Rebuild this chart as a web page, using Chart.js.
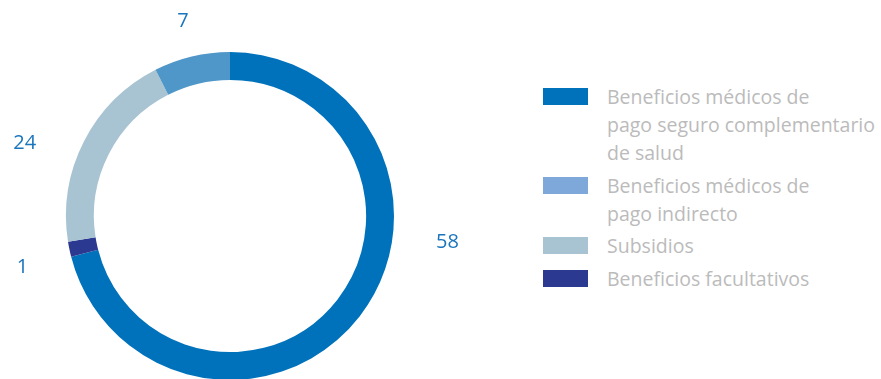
<!DOCTYPE html>
<html>
<head>
<meta charset="utf-8">
<script src="https://cdn.jsdelivr.net/npm/chart.js@4"></script>
<style>
  html, body { margin: 0; padding: 0; background: #fff; }
  body { width: 881px; height: 379px; position: relative; overflow: hidden; font-family: "Open Sans", sans-serif; }
  #wrap { position: absolute; left: 0; top: 0; width: 460px; height: 432px; }
  #legend { position: absolute; left: 543px; top: 83px; }
  .item { position: relative; padding-left: 64px; color: #bbbbbb; font-size: 19.5px; line-height: 28px; margin-bottom: 4.5px; white-space: nowrap; }
  .swatch { position: absolute; left: 0; top: 5px; width: 45px; height: 17px; }
</style>
</head>
<body>
<div id="wrap"><canvas id="dona"></canvas></div>
<div id="legend"></div>
<script>
// ==== Datos ====
// orden en el anillo (sentido horario desde arriba)
const categorias = [
  "Beneficios médicos de\npago seguro complementario\nde salud",
  "Beneficios facultativos",
  "Subsidios",
  "Beneficios médicos de\npago indirecto"
];
const etiquetas = ["58", "1", "24", "7"];       // números impresos junto al anillo
const porcion = [71, 1.5, 20, 7.5];            // tamaño de cada arco
const coloresArco = ["#0072bc", "#2b3990", "#a8c4d3", "#4f96c9"];
const coloresLeyenda = ["#0072bc", "#2b3990", "#a8c4d3", "#7ea8d9"];
const ordenLeyenda = [0, 3, 2, 1];

// posición de cada número: ángulo (grados, horario desde arriba) y distancia al centro
const posEtiqueta = [[96.8, 219], [256, 214], [289.6, 218], [346.4, 200]];

// ==== Leyenda HTML ====
const leyenda = document.getElementById('legend');
ordenLeyenda.forEach(i => {
  const d = document.createElement('div');
  d.className = 'item';
  d.innerHTML = '<span class="swatch" style="background:' + coloresLeyenda[i] + '"></span>' +
    categorias[i].split('\n').join('<br>');
  leyenda.appendChild(d);
});

// plugin para los números fuera del anillo
const numeros = {
  id: 'numeros',
  afterDatasetsDraw(chart) {
    const arc = chart.getDatasetMeta(0).data[0];
    if (!arc) return;
    const ctx = chart.ctx;
    ctx.save();
    ctx.font = '20px "Open Sans"';
    ctx.fillStyle = '#1a75bc';
    ctx.textAlign = 'center';
    ctx.textBaseline = 'middle';
    etiquetas.forEach((t, i) => {
      const a = posEtiqueta[i][0] * Math.PI / 180;
      const r = posEtiqueta[i][1];
      ctx.fillText(t, arc.x + Math.sin(a) * r, arc.y - Math.cos(a) * r);
    });
    ctx.restore();
  }
};

new Chart(document.getElementById('dona'), {
  type: 'doughnut',
  data: {
    labels: categorias,
    datasets: [{ data: porcion, backgroundColor: coloresArco, borderWidth: 0 }]
  },
  options: {
    responsive: true,
    maintainAspectRatio: false,
    animation: false,
    cutout: '83%',
    layout: { padding: 52 },
    plugins: { legend: { display: false }, tooltip: { enabled: false } }
  },
  plugins: [numeros]
});
</script>
</body>
</html>
